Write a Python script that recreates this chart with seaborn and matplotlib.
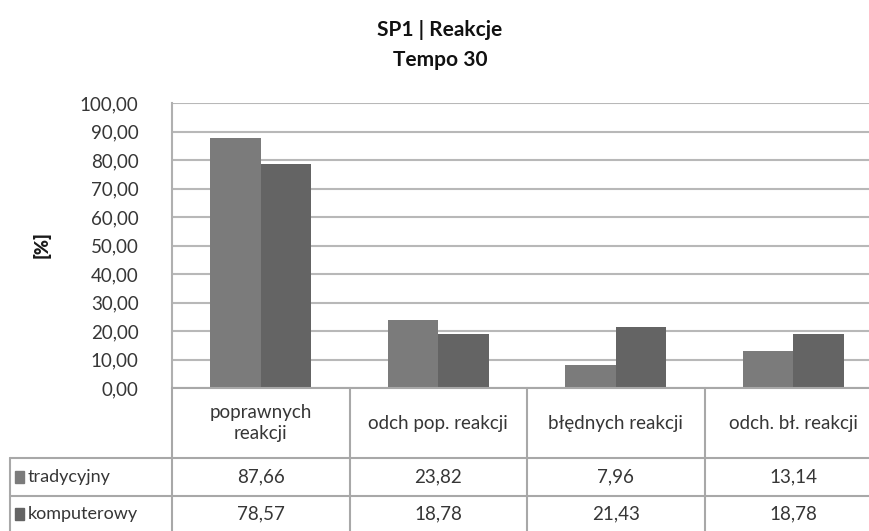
import numpy as np
import matplotlib
matplotlib.use("Agg")
import matplotlib.pyplot as plt
import matplotlib.transforms as mtransforms
from matplotlib.lines import Line2D
import pandas as pd
import seaborn as sns

categories = ["poprawnych\nreakcji", "odch pop. reakcji", "błędnych reakcji", "odch. bł. reakcji"]
series = ["tradycyjny", "komputerowy"]
tradycyjny = [87.66, 23.82, 7.96, 13.14]
komputerowy = [78.57, 18.78, 21.43, 18.78]
colors = ["#7b7b7b", "#646464"]
yticks = np.arange(0, 101, 10)

df = pd.DataFrame({
    "kat": categories * 2,
    "seria": [series[0]] * 4 + [series[1]] * 4,
    "wartosc": tradycyjny + komputerowy,
})

sns.set_style("white")
plt.rcParams["font.family"] = ["Lato", "DejaVu Sans"]

W, H = 869, 531
txt = "#363636"
fig = plt.figure(figsize=(W / 100, H / 100), dpi=100)
# axes runs past the right edge, the original chart was cropped
ax = fig.add_axes([172 / W, 1 - 388 / H, 710 / W, 285 / H])

sns.barplot(data=df, x="kat", y="wartosc", hue="seria", palette=colors,
            width=0.57, gap=0, saturation=1, linewidth=0, ax=ax, legend=False)

ax.set_xlim(-0.5, 3.5)
ax.set_ylim(0, 100)
ax.set_yticks(yticks)
ax.set_yticklabels([f"{v:.2f}".replace(".", ",") for v in yticks],
                   fontsize=13.5, color=txt)
ax.tick_params(axis="y", length=0, pad=24)
ax.set_xticks([])
ax.set_xlabel("")
ax.set_ylabel("")
ax.yaxis.grid(True, color="#b8b8b8", linewidth=1.5)
ax.set_axisbelow(True)
for s in ["top", "right", "bottom"]:
    ax.spines[s].set_visible(False)
ax.spines["left"].set_color("#b0b0b0")
ax.spines["left"].set_linewidth(1.5)

fig.text(42 / W, 1 - 245 / H, "[%]", rotation=90, ha="center", va="center",
         fontsize=13, fontweight="heavy", color="#1a1a1a")
fig.text(440 / W, 1 - 30 / H, "SP1 | Reakcje", ha="center", va="center",
         fontsize=15, fontweight="bold", color="#111111")
fig.text(440 / W, 1 - 60 / H, "Tempo 30", ha="center", va="center",
         fontsize=15, fontweight="bold", color="#111111")

# data table below the axes
bt = mtransforms.blended_transform_factory(ax.transData, fig.transFigure)
lc = "#a8a8a8"

def fy(py):
    return 1 - py / H

def hline(x0, x1, py):
    fig.add_artist(Line2D([x0 / W, x1 / W], [fy(py), fy(py)], color=lc,
                          linewidth=1.5, transform=fig.transFigure))

hline(172, 900, 388)
hline(10, 900, 458)
hline(10, 900, 496)
fig.add_artist(Line2D([172 / W, 172 / W], [fy(388), fy(535)], color=lc,
                      linewidth=1.5, transform=fig.transFigure))
fig.add_artist(Line2D([10 / W, 10 / W], [fy(458), fy(535)], color=lc,
                      linewidth=1.5, transform=fig.transFigure))
for b in [0.5, 1.5, 2.5]:
    fig.add_artist(Line2D([b, b], [fy(388), fy(535)], color=lc,
                          linewidth=1.5, transform=bt))

for i, c in enumerate(categories):
    fig.text(i, fy(423), c, transform=bt, ha="center", va="center",
             fontsize=13.5, color=txt, linespacing=1.25)
    fig.text(i, fy(477), f"{tradycyjny[i]:.2f}".replace(".", ","), transform=bt,
             ha="center", va="center", fontsize=13.5, color=txt)
    fig.text(i, fy(514), f"{komputerowy[i]:.2f}".replace(".", ","), transform=bt,
             ha="center", va="center", fontsize=13.5, color=txt)

for j, (name, rowy) in enumerate(zip(series, [477, 514])):
    fig.patches.append(plt.Rectangle((15 / W, fy(rowy + 6)), 9 / W, 12 / H,
                                     color=colors[j], transform=fig.transFigure))
    fig.text(28 / W, fy(rowy), name, ha="left", va="center",
             fontsize=13, color=txt)

fig.savefig("out.png", dpi=100)
